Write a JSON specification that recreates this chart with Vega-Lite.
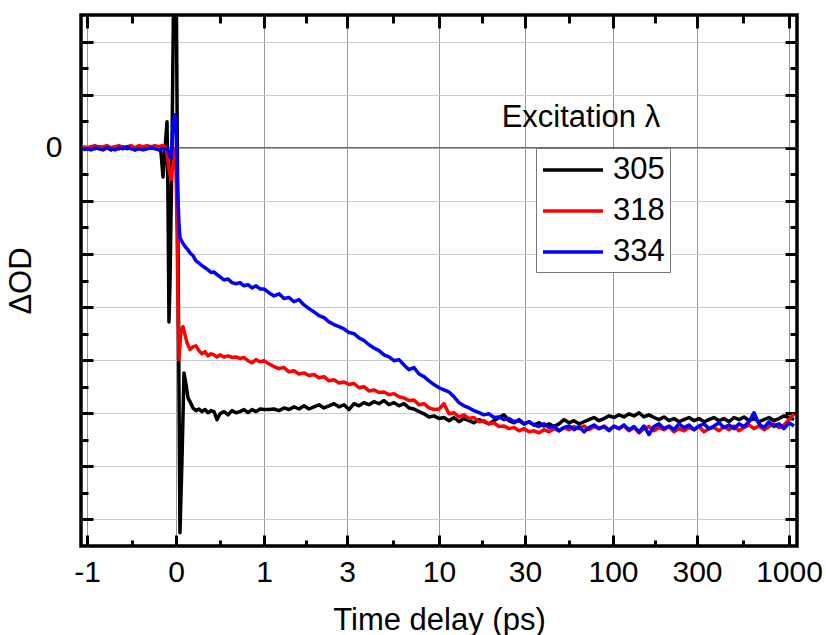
{
"$schema": "https://vega.github.io/schema/vega-lite/v6.json",
"width": 716, "height": 531,
"autosize": "none",
"padding": {"left": 81, "top": 15, "right": 29, "bottom": 89},
"background": "white",
"config": {
  "font": "Liberation Sans",
  "view": {"stroke": "black", "strokeWidth": 3.5},
  "axis": {"domain": false, "tickColor": "black", "tickWidth": 3, "labelFont": "Liberation Sans", "titleFont": "Liberation Sans", "labelColor": "black", "titleColor": "black", "titleFontWeight": "normal", "labelFlush": false, "labelOverlap": false, "labelBound": false}
},
"datasets": {
"traces": [
{"lam":"305","t":-1.045,"dOD":0},{"lam":"305","t":-1.0,"dOD":-0.02},{"lam":"305","t":-0.955,"dOD":0},{"lam":"305","t":-0.91,"dOD":-0.02},{"lam":"305","t":-0.865,"dOD":0.02},{"lam":"305","t":-0.82,"dOD":-0.02},{"lam":"305","t":-0.775,"dOD":0},{"lam":"305","t":-0.73,"dOD":-0.04},{"lam":"305","t":-0.685,"dOD":0},{"lam":"305","t":-0.64,"dOD":-0.02},{"lam":"305","t":-0.596,"dOD":0.02},{"lam":"305","t":-0.551,"dOD":-0.02},{"lam":"305","t":-0.506,"dOD":0},{"lam":"305","t":-0.461,"dOD":-0.04},{"lam":"305","t":-0.416,"dOD":0},{"lam":"305","t":-0.371,"dOD":-0.02},{"lam":"305","t":-0.326,"dOD":0},{"lam":"305","t":-0.281,"dOD":0},{"lam":"305","t":-0.236,"dOD":0.02},{"lam":"305","t":-0.191,"dOD":0},
{"lam":"305","t":-0.169,"dOD":-0.08},{"lam":"305","t":-0.146,"dOD":-0.55},{"lam":"305","t":-0.124,"dOD":-0.04},{"lam":"305","t":-0.101,"dOD":0.49},{"lam":"305","t":-0.09,"dOD":-0.98},{"lam":"305","t":-0.079,"dOD":-3.28},{"lam":"305","t":-0.067,"dOD":-2.49},{"lam":"305","t":-0.045,"dOD":-0.04},{"lam":"305","t":-0.022,"dOD":3.73},{"lam":"305","t":0,"dOD":3.73},{"lam":"305","t":0.023,"dOD":-1.92},{"lam":"305","t":0.045,"dOD":-7.25},{"lam":"305","t":0.068,"dOD":-5.88},{"lam":"305","t":0.091,"dOD":-4.24},{"lam":"305","t":0.114,"dOD":-4.46},{"lam":"305","t":0.136,"dOD":-4.71},{"lam":"305","t":0.159,"dOD":-4.78},{"lam":"305","t":0.193,"dOD":-4.90},{"lam":"305","t":0.227,"dOD":-4.95},{"lam":"305","t":0.261,"dOD":-4.92},{"lam":"305","t":0.295,"dOD":-4.97},{"lam":"305","t":0.33,"dOD":-4.93},{"lam":"305","t":0.364,"dOD":-4.99},{"lam":"305","t":0.398,"dOD":-4.95},{"lam":"305","t":0.432,"dOD":-4.97},{"lam":"305","t":0.466,"dOD":-5.12},{"lam":"305","t":0.5,"dOD":-5.01},{"lam":"305","t":0.545,"dOD":-4.97},{"lam":"305","t":0.591,"dOD":-5.03},{"lam":"305","t":0.636,"dOD":-4.95},{"lam":"305","t":0.682,"dOD":-4.99},{"lam":"305","t":0.727,"dOD":-4.97},{"lam":"305","t":0.773,"dOD":-4.93},{"lam":"305","t":0.818,"dOD":-4.99},{"lam":"305","t":0.864,"dOD":-4.93},{"lam":"305","t":0.909,"dOD":-4.97},{"lam":"305","t":0.955,"dOD":-4.92},{"lam":"305","t":1.0,"dOD":-4.93},
{"lam":"305","t":1.12,"dOD":-4.93},{"lam":"305","t":1.241,"dOD":-4.92},{"lam":"305","t":1.361,"dOD":-4.95},{"lam":"305","t":1.482,"dOD":-4.90},{"lam":"305","t":1.602,"dOD":-4.93},{"lam":"305","t":1.723,"dOD":-4.88},{"lam":"305","t":1.843,"dOD":-4.92},{"lam":"305","t":1.964,"dOD":-4.86},{"lam":"305","t":2.084,"dOD":-4.92},{"lam":"305","t":2.205,"dOD":-4.88},{"lam":"305","t":2.325,"dOD":-4.84},{"lam":"305","t":2.446,"dOD":-4.90},{"lam":"305","t":2.566,"dOD":-4.86},{"lam":"305","t":2.687,"dOD":-4.82},{"lam":"305","t":2.807,"dOD":-4.88},{"lam":"305","t":2.928,"dOD":-4.84},{"lam":"305","t":3.152,"dOD":-4.93},{"lam":"305","t":3.533,"dOD":-4.82},{"lam":"305","t":3.913,"dOD":-4.86},{"lam":"305","t":4.293,"dOD":-4.80},{"lam":"305","t":4.674,"dOD":-4.84},{"lam":"305","t":5.054,"dOD":-4.78},{"lam":"305","t":5.435,"dOD":-4.82},{"lam":"305","t":5.815,"dOD":-4.76},{"lam":"305","t":6.196,"dOD":-4.84},{"lam":"305","t":6.576,"dOD":-4.80},{"lam":"305","t":6.957,"dOD":-4.86},{"lam":"305","t":7.337,"dOD":-4.82},{"lam":"305","t":7.717,"dOD":-4.90},{"lam":"305","t":8.098,"dOD":-4.92},{"lam":"305","t":8.478,"dOD":-4.97},{"lam":"305","t":8.859,"dOD":-5.01},{"lam":"305","t":9.239,"dOD":-5.07},{"lam":"305","t":9.62,"dOD":-5.05},{"lam":"305","t":10.0,"dOD":-5.10},{"lam":"305","t":11.16,"dOD":-5.08},{"lam":"305","t":12.33,"dOD":-5.14},{"lam":"305","t":13.49,"dOD":-5.08},{"lam":"305","t":14.65,"dOD":-5.16},{"lam":"305","t":15.81,"dOD":-5.10},{"lam":"305","t":16.98,"dOD":-5.14},{"lam":"305","t":18.14,"dOD":-5.18},{"lam":"305","t":19.3,"dOD":-5.12},{"lam":"305","t":20.47,"dOD":-5.16},{"lam":"305","t":21.63,"dOD":-5.20},{"lam":"305","t":22.79,"dOD":-5.14},{"lam":"305","t":23.95,"dOD":-5.08},{"lam":"305","t":25.12,"dOD":-5.03},{"lam":"305","t":26.28,"dOD":-5.14},{"lam":"305","t":27.44,"dOD":-5.18},{"lam":"305","t":28.6,"dOD":-5.12},{"lam":"305","t":29.77,"dOD":-5.20},{"lam":"305","t":33.18,"dOD":-5.16},{"lam":"305","t":37.16,"dOD":-5.22},{"lam":"305","t":41.14,"dOD":-5.18},{"lam":"305","t":45.11,"dOD":-5.24},{"lam":"305","t":49.09,"dOD":-5.20},{"lam":"305","t":53.07,"dOD":-5.25},{"lam":"305","t":57.05,"dOD":-5.20},{"lam":"305","t":61.02,"dOD":-5.12},{"lam":"305","t":65.0,"dOD":-5.18},{"lam":"305","t":68.98,"dOD":-5.14},{"lam":"305","t":72.95,"dOD":-5.20},{"lam":"305","t":76.93,"dOD":-5.16},{"lam":"305","t":80.91,"dOD":-5.12},{"lam":"305","t":84.89,"dOD":-5.08},{"lam":"305","t":88.86,"dOD":-5.14},{"lam":"305","t":92.84,"dOD":-5.10},{"lam":"305","t":96.82,"dOD":-5.05},{"lam":"305","t":102.4,"dOD":-5.08},{"lam":"305","t":114.3,"dOD":-5.03},{"lam":"305","t":126.2,"dOD":-5.07},{"lam":"305","t":138.1,"dOD":-5.01},{"lam":"305","t":150.0,"dOD":-5.05},{"lam":"305","t":161.9,"dOD":-4.99},{"lam":"305","t":173.8,"dOD":-5.07},{"lam":"305","t":185.7,"dOD":-5.03},{"lam":"305","t":197.6,"dOD":-5.08},{"lam":"305","t":209.5,"dOD":-5.12},{"lam":"305","t":221.4,"dOD":-5.07},{"lam":"305","t":233.3,"dOD":-5.14},{"lam":"305","t":245.2,"dOD":-5.10},{"lam":"305","t":257.1,"dOD":-5.16},{"lam":"305","t":269.0,"dOD":-5.12},{"lam":"305","t":281.0,"dOD":-5.08},{"lam":"305","t":292.9,"dOD":-5.14},{"lam":"305","t":315.2,"dOD":-5.10},{"lam":"305","t":353.3,"dOD":-5.16},{"lam":"305","t":391.3,"dOD":-5.12},{"lam":"305","t":429.3,"dOD":-5.08},{"lam":"305","t":467.4,"dOD":-5.14},{"lam":"305","t":505.4,"dOD":-5.10},{"lam":"305","t":543.5,"dOD":-5.16},{"lam":"305","t":581.5,"dOD":-5.08},{"lam":"305","t":619.6,"dOD":-5.12},{"lam":"305","t":657.6,"dOD":-5.07},{"lam":"305","t":695.7,"dOD":-5.14},{"lam":"305","t":733.7,"dOD":-5.10},{"lam":"305","t":771.7,"dOD":-5.16},{"lam":"305","t":809.8,"dOD":-5.12},{"lam":"305","t":847.8,"dOD":-5.08},{"lam":"305","t":885.9,"dOD":-5.14},{"lam":"305","t":923.9,"dOD":-5.10},{"lam":"305","t":962.0,"dOD":-5.05},{"lam":"305","t":1000,"dOD":-5.08},{"lam":"305","t":1038,"dOD":-5.12},

{"lam":"318","t":-1.045,"dOD":0.02},{"lam":"318","t":-1.0,"dOD":0},{"lam":"318","t":-0.955,"dOD":0.02},{"lam":"318","t":-0.91,"dOD":0.04},{"lam":"318","t":-0.865,"dOD":0},{"lam":"318","t":-0.82,"dOD":0.02},{"lam":"318","t":-0.775,"dOD":0.04},{"lam":"318","t":-0.73,"dOD":0},{"lam":"318","t":-0.685,"dOD":0.02},{"lam":"318","t":-0.64,"dOD":0.04},{"lam":"318","t":-0.596,"dOD":0},{"lam":"318","t":-0.551,"dOD":0.02},{"lam":"318","t":-0.506,"dOD":0.04},{"lam":"318","t":-0.461,"dOD":0},{"lam":"318","t":-0.416,"dOD":0.04},{"lam":"318","t":-0.371,"dOD":0.02},{"lam":"318","t":-0.326,"dOD":0.04},{"lam":"318","t":-0.281,"dOD":0.02},{"lam":"318","t":-0.236,"dOD":0.04},{"lam":"318","t":-0.191,"dOD":0.02},{"lam":"318","t":-0.157,"dOD":0.04},{"lam":"318","t":-0.124,"dOD":0.02},
{"lam":"318","t":-0.101,"dOD":-0.08},{"lam":"318","t":-0.079,"dOD":-0.41},{"lam":"318","t":-0.056,"dOD":-0.60},{"lam":"318","t":-0.034,"dOD":-0.32},{"lam":"318","t":-0.011,"dOD":-0.04},{"lam":"318","t":0,"dOD":-0.41},{"lam":"318","t":0.011,"dOD":-1.54},{"lam":"318","t":0.023,"dOD":-2.86},{"lam":"318","t":0.034,"dOD":-3.99},{"lam":"318","t":0.045,"dOD":-3.71},{"lam":"318","t":0.057,"dOD":-3.43},{"lam":"318","t":0.08,"dOD":-3.37},{"lam":"318","t":0.102,"dOD":-3.52},{"lam":"318","t":0.125,"dOD":-3.67},{"lam":"318","t":0.159,"dOD":-3.80},{"lam":"318","t":0.193,"dOD":-3.75},{"lam":"318","t":0.227,"dOD":-3.73},{"lam":"318","t":0.261,"dOD":-3.82},{"lam":"318","t":0.295,"dOD":-3.88},{"lam":"318","t":0.33,"dOD":-3.84},{"lam":"318","t":0.364,"dOD":-3.92},{"lam":"318","t":0.398,"dOD":-3.88},{"lam":"318","t":0.432,"dOD":-3.90},{"lam":"318","t":0.466,"dOD":-3.94},{"lam":"318","t":0.5,"dOD":-3.90},{"lam":"318","t":0.545,"dOD":-3.94},{"lam":"318","t":0.591,"dOD":-3.92},{"lam":"318","t":0.636,"dOD":-3.95},{"lam":"318","t":0.682,"dOD":-3.94},{"lam":"318","t":0.727,"dOD":-3.97},{"lam":"318","t":0.773,"dOD":-3.95},{"lam":"318","t":0.818,"dOD":-4.01},{"lam":"318","t":0.864,"dOD":-4.05},{"lam":"318","t":0.909,"dOD":-3.99},{"lam":"318","t":0.955,"dOD":-4.03},{"lam":"318","t":1.0,"dOD":-4.01},
{"lam":"318","t":1.12,"dOD":-4.07},{"lam":"318","t":1.241,"dOD":-4.12},{"lam":"318","t":1.361,"dOD":-4.16},{"lam":"318","t":1.482,"dOD":-4.14},{"lam":"318","t":1.602,"dOD":-4.22},{"lam":"318","t":1.723,"dOD":-4.20},{"lam":"318","t":1.843,"dOD":-4.26},{"lam":"318","t":1.964,"dOD":-4.24},{"lam":"318","t":2.084,"dOD":-4.29},{"lam":"318","t":2.205,"dOD":-4.27},{"lam":"318","t":2.325,"dOD":-4.33},{"lam":"318","t":2.446,"dOD":-4.31},{"lam":"318","t":2.566,"dOD":-4.39},{"lam":"318","t":2.687,"dOD":-4.37},{"lam":"318","t":2.807,"dOD":-4.43},{"lam":"318","t":2.928,"dOD":-4.41},{"lam":"318","t":3.152,"dOD":-4.46},{"lam":"318","t":3.533,"dOD":-4.44},{"lam":"318","t":3.913,"dOD":-4.52},{"lam":"318","t":4.293,"dOD":-4.50},{"lam":"318","t":4.674,"dOD":-4.58},{"lam":"318","t":5.054,"dOD":-4.56},{"lam":"318","t":5.435,"dOD":-4.61},{"lam":"318","t":5.815,"dOD":-4.60},{"lam":"318","t":6.196,"dOD":-4.65},{"lam":"318","t":6.576,"dOD":-4.63},{"lam":"318","t":6.957,"dOD":-4.69},{"lam":"318","t":7.337,"dOD":-4.71},{"lam":"318","t":7.717,"dOD":-4.76},{"lam":"318","t":8.098,"dOD":-4.75},{"lam":"318","t":8.478,"dOD":-4.84},{"lam":"318","t":8.859,"dOD":-4.82},{"lam":"318","t":9.239,"dOD":-4.90},{"lam":"318","t":9.62,"dOD":-4.93},{"lam":"318","t":10.0,"dOD":-4.92},{"lam":"318","t":11.16,"dOD":-4.82},{"lam":"318","t":12.33,"dOD":-5.01},{"lam":"318","t":13.49,"dOD":-4.99},{"lam":"318","t":14.65,"dOD":-5.07},{"lam":"318","t":15.81,"dOD":-5.03},{"lam":"318","t":16.98,"dOD":-5.10},{"lam":"318","t":18.14,"dOD":-5.08},{"lam":"318","t":19.3,"dOD":-5.16},{"lam":"318","t":20.47,"dOD":-5.14},{"lam":"318","t":21.63,"dOD":-5.20},{"lam":"318","t":22.79,"dOD":-5.18},{"lam":"318","t":23.95,"dOD":-5.25},{"lam":"318","t":25.12,"dOD":-5.24},{"lam":"318","t":26.28,"dOD":-5.29},{"lam":"318","t":27.44,"dOD":-5.27},{"lam":"318","t":28.6,"dOD":-5.33},{"lam":"318","t":29.77,"dOD":-5.29},{"lam":"318","t":33.18,"dOD":-5.35},{"lam":"318","t":37.16,"dOD":-5.33},{"lam":"318","t":41.14,"dOD":-5.37},{"lam":"318","t":45.11,"dOD":-5.31},{"lam":"318","t":49.09,"dOD":-5.35},{"lam":"318","t":53.07,"dOD":-5.29},{"lam":"318","t":57.05,"dOD":-5.33},{"lam":"318","t":61.02,"dOD":-5.27},{"lam":"318","t":65.0,"dOD":-5.31},{"lam":"318","t":68.98,"dOD":-5.25},{"lam":"318","t":72.95,"dOD":-5.29},{"lam":"318","t":76.93,"dOD":-5.24},{"lam":"318","t":80.91,"dOD":-5.31},{"lam":"318","t":84.89,"dOD":-5.25},{"lam":"318","t":88.86,"dOD":-5.29},{"lam":"318","t":92.84,"dOD":-5.24},{"lam":"318","t":96.82,"dOD":-5.31},{"lam":"318","t":102.4,"dOD":-5.25},{"lam":"318","t":114.3,"dOD":-5.29},{"lam":"318","t":126.2,"dOD":-5.24},{"lam":"318","t":138.1,"dOD":-5.33},{"lam":"318","t":150.0,"dOD":-5.27},{"lam":"318","t":161.9,"dOD":-5.37},{"lam":"318","t":173.8,"dOD":-5.29},{"lam":"318","t":185.7,"dOD":-5.25},{"lam":"318","t":197.6,"dOD":-5.33},{"lam":"318","t":209.5,"dOD":-5.27},{"lam":"318","t":221.4,"dOD":-5.31},{"lam":"318","t":233.3,"dOD":-5.25},{"lam":"318","t":245.2,"dOD":-5.35},{"lam":"318","t":257.1,"dOD":-5.29},{"lam":"318","t":269.0,"dOD":-5.33},{"lam":"318","t":281.0,"dOD":-5.27},{"lam":"318","t":292.9,"dOD":-5.31},{"lam":"318","t":315.2,"dOD":-5.25},{"lam":"318","t":353.3,"dOD":-5.35},{"lam":"318","t":391.3,"dOD":-5.29},{"lam":"318","t":429.3,"dOD":-5.27},{"lam":"318","t":467.4,"dOD":-5.33},{"lam":"318","t":505.4,"dOD":-5.25},{"lam":"318","t":543.5,"dOD":-5.31},{"lam":"318","t":581.5,"dOD":-5.24},{"lam":"318","t":619.6,"dOD":-5.33},{"lam":"318","t":657.6,"dOD":-5.27},{"lam":"318","t":695.7,"dOD":-5.22},{"lam":"318","t":733.7,"dOD":-5.29},{"lam":"318","t":771.7,"dOD":-5.24},{"lam":"318","t":809.8,"dOD":-5.31},{"lam":"318","t":847.8,"dOD":-5.25},{"lam":"318","t":885.9,"dOD":-5.20},{"lam":"318","t":923.9,"dOD":-5.27},{"lam":"318","t":962.0,"dOD":-5.22},{"lam":"318","t":1000,"dOD":-5.12},{"lam":"318","t":1038,"dOD":-5.01},

{"lam":"334","t":-1.045,"dOD":-0.04},{"lam":"334","t":-1.0,"dOD":-0.02},{"lam":"334","t":-0.955,"dOD":-0.04},{"lam":"334","t":-0.91,"dOD":0},{"lam":"334","t":-0.865,"dOD":-0.02},{"lam":"334","t":-0.82,"dOD":-0.04},{"lam":"334","t":-0.775,"dOD":0},{"lam":"334","t":-0.73,"dOD":-0.02},{"lam":"334","t":-0.685,"dOD":-0.04},{"lam":"334","t":-0.64,"dOD":0},{"lam":"334","t":-0.596,"dOD":-0.02},{"lam":"334","t":-0.551,"dOD":0.02},{"lam":"334","t":-0.506,"dOD":-0.02},{"lam":"334","t":-0.461,"dOD":-0.04},{"lam":"334","t":-0.416,"dOD":-0.02},{"lam":"334","t":-0.371,"dOD":-0.04},{"lam":"334","t":-0.326,"dOD":-0.02},{"lam":"334","t":-0.281,"dOD":0},{"lam":"334","t":-0.236,"dOD":-0.02},{"lam":"334","t":-0.191,"dOD":-0.04},{"lam":"334","t":-0.146,"dOD":-0.02},{"lam":"334","t":-0.112,"dOD":-0.02},
{"lam":"334","t":-0.09,"dOD":-0.04},{"lam":"334","t":-0.067,"dOD":-0.17},{"lam":"334","t":-0.056,"dOD":-0.19},{"lam":"334","t":-0.045,"dOD":0.06},{"lam":"334","t":-0.034,"dOD":0.43},{"lam":"334","t":-0.011,"dOD":0.62},{"lam":"334","t":0,"dOD":0.43},{"lam":"334","t":0.011,"dOD":-0.41},{"lam":"334","t":0.023,"dOD":-0.98},{"lam":"334","t":0.034,"dOD":-1.45},{"lam":"334","t":0.045,"dOD":-1.69},{"lam":"334","t":0.068,"dOD":-1.77},{"lam":"334","t":0.091,"dOD":-1.83},{"lam":"334","t":0.114,"dOD":-1.88},{"lam":"334","t":0.136,"dOD":-1.92},{"lam":"334","t":0.159,"dOD":-1.98},{"lam":"334","t":0.193,"dOD":-2.03},{"lam":"334","t":0.227,"dOD":-2.13},{"lam":"334","t":0.261,"dOD":-2.17},{"lam":"334","t":0.295,"dOD":-2.22},{"lam":"334","t":0.33,"dOD":-2.26},{"lam":"334","t":0.364,"dOD":-2.30},{"lam":"334","t":0.398,"dOD":-2.35},{"lam":"334","t":0.432,"dOD":-2.34},{"lam":"334","t":0.466,"dOD":-2.39},{"lam":"334","t":0.5,"dOD":-2.43},{"lam":"334","t":0.545,"dOD":-2.49},{"lam":"334","t":0.591,"dOD":-2.47},{"lam":"334","t":0.636,"dOD":-2.54},{"lam":"334","t":0.682,"dOD":-2.56},{"lam":"334","t":0.727,"dOD":-2.54},{"lam":"334","t":0.773,"dOD":-2.60},{"lam":"334","t":0.818,"dOD":-2.58},{"lam":"334","t":0.864,"dOD":-2.64},{"lam":"334","t":0.909,"dOD":-2.60},{"lam":"334","t":0.955,"dOD":-2.66},{"lam":"334","t":1.0,"dOD":-2.66},
{"lam":"334","t":1.12,"dOD":-2.73},{"lam":"334","t":1.241,"dOD":-2.79},{"lam":"334","t":1.361,"dOD":-2.75},{"lam":"334","t":1.482,"dOD":-2.84},{"lam":"334","t":1.602,"dOD":-2.82},{"lam":"334","t":1.723,"dOD":-2.90},{"lam":"334","t":1.843,"dOD":-2.86},{"lam":"334","t":1.964,"dOD":-2.96},{"lam":"334","t":2.084,"dOD":-3.03},{"lam":"334","t":2.205,"dOD":-3.09},{"lam":"334","t":2.325,"dOD":-3.16},{"lam":"334","t":2.446,"dOD":-3.20},{"lam":"334","t":2.566,"dOD":-3.28},{"lam":"334","t":2.687,"dOD":-3.33},{"lam":"334","t":2.807,"dOD":-3.37},{"lam":"334","t":2.928,"dOD":-3.41},{"lam":"334","t":3.152,"dOD":-3.48},{"lam":"334","t":3.533,"dOD":-3.50},{"lam":"334","t":3.913,"dOD":-3.58},{"lam":"334","t":4.293,"dOD":-3.63},{"lam":"334","t":4.674,"dOD":-3.71},{"lam":"334","t":5.054,"dOD":-3.77},{"lam":"334","t":5.435,"dOD":-3.82},{"lam":"334","t":5.815,"dOD":-3.90},{"lam":"334","t":6.196,"dOD":-3.94},{"lam":"334","t":6.576,"dOD":-4.01},{"lam":"334","t":6.957,"dOD":-3.99},{"lam":"334","t":7.337,"dOD":-4.09},{"lam":"334","t":7.717,"dOD":-4.18},{"lam":"334","t":8.098,"dOD":-4.14},{"lam":"334","t":8.478,"dOD":-4.26},{"lam":"334","t":8.859,"dOD":-4.31},{"lam":"334","t":9.239,"dOD":-4.39},{"lam":"334","t":9.62,"dOD":-4.46},{"lam":"334","t":10.0,"dOD":-4.52},{"lam":"334","t":11.16,"dOD":-4.56},{"lam":"334","t":12.33,"dOD":-4.60},{"lam":"334","t":13.49,"dOD":-4.69},{"lam":"334","t":14.65,"dOD":-4.80},{"lam":"334","t":15.81,"dOD":-4.86},{"lam":"334","t":16.98,"dOD":-4.90},{"lam":"334","t":18.14,"dOD":-4.95},{"lam":"334","t":19.3,"dOD":-4.99},{"lam":"334","t":20.47,"dOD":-5.03},{"lam":"334","t":21.63,"dOD":-5.01},{"lam":"334","t":22.79,"dOD":-5.08},{"lam":"334","t":23.95,"dOD":-5.07},{"lam":"334","t":25.12,"dOD":-5.12},{"lam":"334","t":26.28,"dOD":-5.10},{"lam":"334","t":27.44,"dOD":-5.16},{"lam":"334","t":28.6,"dOD":-5.14},{"lam":"334","t":29.77,"dOD":-5.20},{"lam":"334","t":33.18,"dOD":-5.16},{"lam":"334","t":37.16,"dOD":-5.22},{"lam":"334","t":41.14,"dOD":-5.25},{"lam":"334","t":45.11,"dOD":-5.20},{"lam":"334","t":49.09,"dOD":-5.27},{"lam":"334","t":53.07,"dOD":-5.24},{"lam":"334","t":57.05,"dOD":-5.33},{"lam":"334","t":61.02,"dOD":-5.27},{"lam":"334","t":65.0,"dOD":-5.24},{"lam":"334","t":68.98,"dOD":-5.31},{"lam":"334","t":72.95,"dOD":-5.25},{"lam":"334","t":76.93,"dOD":-5.35},{"lam":"334","t":80.91,"dOD":-5.27},{"lam":"334","t":84.89,"dOD":-5.22},{"lam":"334","t":88.86,"dOD":-5.29},{"lam":"334","t":92.84,"dOD":-5.25},{"lam":"334","t":96.82,"dOD":-5.33},{"lam":"334","t":102.4,"dOD":-5.24},{"lam":"334","t":114.3,"dOD":-5.29},{"lam":"334","t":126.2,"dOD":-5.22},{"lam":"334","t":138.1,"dOD":-5.31},{"lam":"334","t":150.0,"dOD":-5.25},{"lam":"334","t":161.9,"dOD":-5.35},{"lam":"334","t":173.8,"dOD":-5.24},{"lam":"334","t":185.7,"dOD":-5.40},{"lam":"334","t":197.6,"dOD":-5.25},{"lam":"334","t":209.5,"dOD":-5.20},{"lam":"334","t":221.4,"dOD":-5.29},{"lam":"334","t":233.3,"dOD":-5.24},{"lam":"334","t":245.2,"dOD":-5.31},{"lam":"334","t":257.1,"dOD":-5.20},{"lam":"334","t":269.0,"dOD":-5.27},{"lam":"334","t":281.0,"dOD":-5.22},{"lam":"334","t":292.9,"dOD":-5.31},{"lam":"334","t":315.2,"dOD":-5.24},{"lam":"334","t":353.3,"dOD":-5.20},{"lam":"334","t":391.3,"dOD":-5.29},{"lam":"334","t":429.3,"dOD":-5.24},{"lam":"334","t":467.4,"dOD":-5.18},{"lam":"334","t":505.4,"dOD":-5.27},{"lam":"334","t":543.5,"dOD":-5.22},{"lam":"334","t":581.5,"dOD":-5.29},{"lam":"334","t":619.6,"dOD":-5.20},{"lam":"334","t":657.6,"dOD":-5.25},{"lam":"334","t":695.7,"dOD":-5.16},{"lam":"334","t":733.7,"dOD":-4.99},{"lam":"334","t":771.7,"dOD":-5.20},{"lam":"334","t":809.8,"dOD":-5.27},{"lam":"334","t":847.8,"dOD":-5.16},{"lam":"334","t":885.9,"dOD":-5.25},{"lam":"334","t":923.9,"dOD":-5.20},{"lam":"334","t":962.0,"dOD":-5.29},{"lam":"334","t":1000,"dOD":-5.18},{"lam":"334","t":1038,"dOD":-5.24}
],
"zero": [{"t0": -1.07, "t1": 1061, "level": 0}],
"label": [{"t": 74.5, "dOD": 0.565, "text": "Excitation λ"}]
},
"layer": [
  {
    "data": {"name": "zero"},
    "mark": {"type": "rule", "color": "#3a3a3a", "strokeWidth": 1},
    "encoding": {
      "x": {"field": "t0", "type": "quantitative",
        "scale": {"type": "linear", "domain": [-1.07, -1, 0, 1, 3, 10, 30, 100, 300, 1000, 1061], "range": [0, 6, 95, 183, 266, 358, 444, 532, 616, 708, 716], "nice": false, "zero": false},
        "axis": {"orient": "top", "values": [-1, -0.5, 0, 0.5, 1, 2, 3, 6.5, 10, 20, 30, 65, 100, 200, 300, 650, 1000], "labels": false, "grid": false, "title": null,
          "tickSize": {"condition": {"test": "indexof([-1,0,1,3,10,30,100,300,1000], datum.value) >= 0", "value": -13}, "value": -8}}},
      "x2": {"field": "t1"},
      "y": {"field": "level", "type": "quantitative",
        "scale": {"domain": [-7.5, 2.5], "nice": false, "zero": false},
        "axis": {"orient": "right", "values": [-7, -6.5, -6, -5.5, -5, -4.5, -4, -3.5, -3, -2.5, -2, -1.5, -1, -0.5, 0, 0.5, 1, 1.5, 2], "labels": false, "grid": false, "title": null,
          "tickSize": {"condition": {"test": "datum.value % 1 === 0", "value": -12}, "value": -7}}}
    }
  },
  {
    "data": {"name": "traces"},
    "mark": {"type": "line", "strokeWidth": 3.5, "clip": true, "strokeJoin": "round"},
    "encoding": {
      "x": {"field": "t", "type": "quantitative",
        "scale": {"type": "linear", "domain": [-1.07, -1, 0, 1, 3, 10, 30, 100, 300, 1000, 1061], "range": [0, 6, 95, 183, 266, 358, 444, 532, 616, 708, 716], "nice": false, "zero": false},
        "axis": {"orient": "bottom", "values": [-1, -0.5, 0, 0.5, 1, 2, 3, 6.5, 10, 20, 30, 65, 100, 200, 300, 650, 1000],
          "labelExpr": "indexof([-1,0,1,3,10,30,100,300,1000], datum.value) >= 0 ? '' + datum.value : ''",
          "labelFontSize": 30, "labelPadding": 22, "labelAngle": 0,
          "grid": true, "gridColor": "#999999", "gridWidth": 1,
          "gridOpacity": {"condition": {"test": "indexof([-1,0,1,3,10,30,100,300,1000], datum.value) >= 0", "value": 1}, "value": 0},
          "tickSize": {"condition": {"test": "indexof([-1,0,1,3,10,30,100,300,1000], datum.value) >= 0", "value": -11}, "value": -6},
          "title": "Time delay (ps)", "titleFontSize": 31, "titlePadding": 13}},
      "y": {"field": "dOD", "type": "quantitative",
        "scale": {"domain": [-7.5, 2.5], "nice": false, "zero": false},
        "axis": {"orient": "left", "values": [-7, -6.5, -6, -5.5, -5, -4.5, -4, -3.5, -3, -2.5, -2, -1.5, -1, -0.5, 0, 0.5, 1, 1.5, 2],
          "labelExpr": "datum.value === 0 ? '0' : ''",
          "labelFontSize": 30, "labelPadding": 31,
          "grid": true, "gridColor": "#cccccc", "gridWidth": 1,
          "gridOpacity": {"condition": {"test": "datum.value % 1 === 0", "value": 1}, "value": 0},
          "tickSize": {"condition": {"test": "datum.value % 1 === 0", "value": -12}, "value": -7},
          "title": "ΔOD", "titleFontSize": 31, "titlePadding": 8}},
      "color": {"field": "lam", "type": "nominal",
        "scale": {"domain": ["305", "318", "334"], "range": ["#000000", "#ff0000", "#0000ff"]},
        "legend": {"orient": "none", "legendX": 455, "legendY": 133, "title": null, "symbolType": "M-1,0H3", "symbolSize": 900, "symbolStrokeWidth": 3.5, "labelFontSize": 31, "labelFont": "Liberation Sans", "labelColor": "black", "labelOffset": 38, "rowPadding": 9, "padding": 5, "strokeColor": "#777777", "fillColor": "white"}}
    }
  },
  {
    "data": {"name": "label"},
    "mark": {"type": "text", "fontSize": 31, "font": "Liberation Sans", "align": "center", "baseline": "middle", "color": "black"},
    "encoding": {
      "x": {"field": "t", "type": "quantitative",
        "scale": {"type": "linear", "domain": [-1.07, -1, 0, 1, 3, 10, 30, 100, 300, 1000, 1061], "range": [0, 6, 95, 183, 266, 358, 444, 532, 616, 708, 716], "nice": false, "zero": false}, "axis": null},
      "y": {"field": "dOD", "type": "quantitative", "scale": {"domain": [-7.5, 2.5], "nice": false, "zero": false}, "axis": null},
      "text": {"field": "text"}
    }
  }
],
"resolve": {"axis": {"x": "independent", "y": "independent"}}
}
